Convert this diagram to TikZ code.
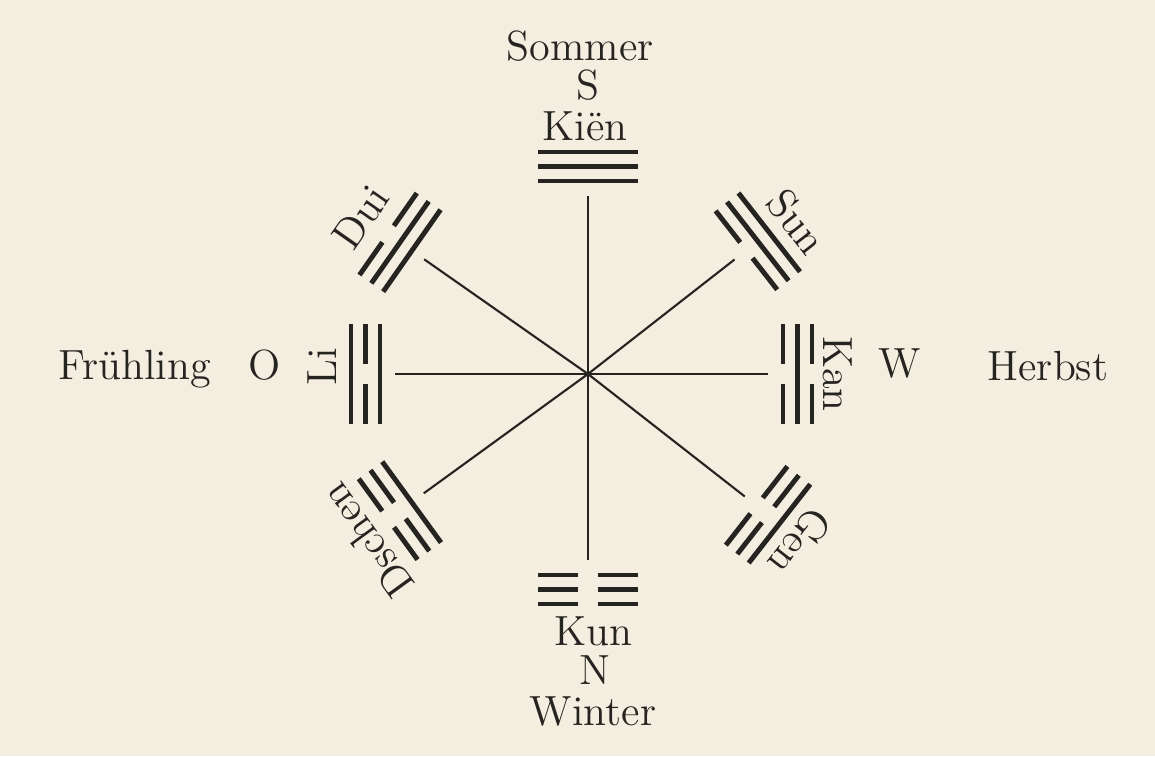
\documentclass[tikz,border=0pt]{standalone}
\usepackage{tikz}
\usetikzlibrary{positioning}
\definecolor{Paper}{RGB}{243,238,224}
\definecolor{Ink}{RGB}{38,36,32}

% one line of a trigram at distance #1 (1 = whole, 0 = broken)
\newcommand{\yaoline}[2]{%
  \ifnum#2=1
    \draw[yao] (#1,-0.5) -- (#1,0.5);
  \else
    \draw[yao] (#1,-0.5) -- (#1,-0.1) (#1,0.1) -- (#1,0.5);
  \fi}

\begin{document}
\begin{tikzpicture}[font=\fontsize{12}{14}\selectfont,
    yao/.style={line width=1.4pt,Ink},
    spoke/.style={line width=0.6pt,Ink},
    lbl/.style={text=Ink,inner sep=0pt}]
  \fill[Paper] (-5.88,-3.82) rectangle (5.67,3.74);
  \coordinate (c) at (0,0);
  % trigrams: name/angle/radius/lower/middle/upper line
  \foreach \nm/\ang/\rad/\yi/\yii/\yiii in {
      kien/90/1.93/1/1/1, kun/270/2.01/0/0/0,
      li/180/2.08/1/0/1, kan/0/1.95/0/1/0,
      dui/145/2.15/1/1/0, sun/38/2.01/0/1/1,
      dschen/216/2.18/1/0/0, gen/322/2.14/0/0/1}{
    \begin{scope}[rotate=\ang]
      \coordinate (e-\nm) at (\rad-0.15,0);
      \pgfmathsetmacro{\rb}{\rad+0.145}
      \pgfmathsetmacro{\rc}{\rad+0.29}
      \yaoline{\rad}{\yi}
      \yaoline{\rb}{\yii}
      \yaoline{\rc}{\yiii}
    \end{scope}
    \draw[spoke] (c) -- (e-\nm);
  }
  % top and bottom
  \node[lbl,anchor=base] (sommer) at (-0.08,3.14) {Sommer};
  \node[lbl,anchor=base] (s) at (0,2.75) {S};
  \node[lbl,anchor=base] (kienl) at (-0.03,2.34) {Kiën};
  \node[lbl,anchor=base] (kunl) at (0.05,-2.71) {Kun};
  \node[lbl,anchor=base] (n) at (0.07,-3.10) {N};
  \node[lbl,anchor=base] (winter) at (0.05,-3.51) {Winter};
  % left and right
  \node[lbl,anchor=base] (fruehling) at (-4.53,-0.05) {Frühling};
  \node[lbl,anchor=base] (o) at (-3.23,-0.05) {O};
  \node[lbl,anchor=base] (w) at (3.12,-0.03) {W};
  \node[lbl,anchor=base] (herbst) at (4.60,-0.06) {Herbst};
  % names beside the trigrams
  \node[lbl,rotate=55] (duil) at (-2.27,1.57) {Dui};
  \node[lbl,rotate=-52] (sunl) at (2.09,1.52) {Sun};
  \node[lbl,rotate=90] (lil) at (-2.66,0.07) {Li};
  \node[lbl,rotate=-90] (kanl) at (2.50,0) {Kan};
  \node[lbl,rotate=126] (dschenl) at (-2.21,-1.67) {Dschen};
  \node[lbl,rotate=232] (genl) at (2.12,-1.68) {Gen};
\end{tikzpicture}
\end{document}
